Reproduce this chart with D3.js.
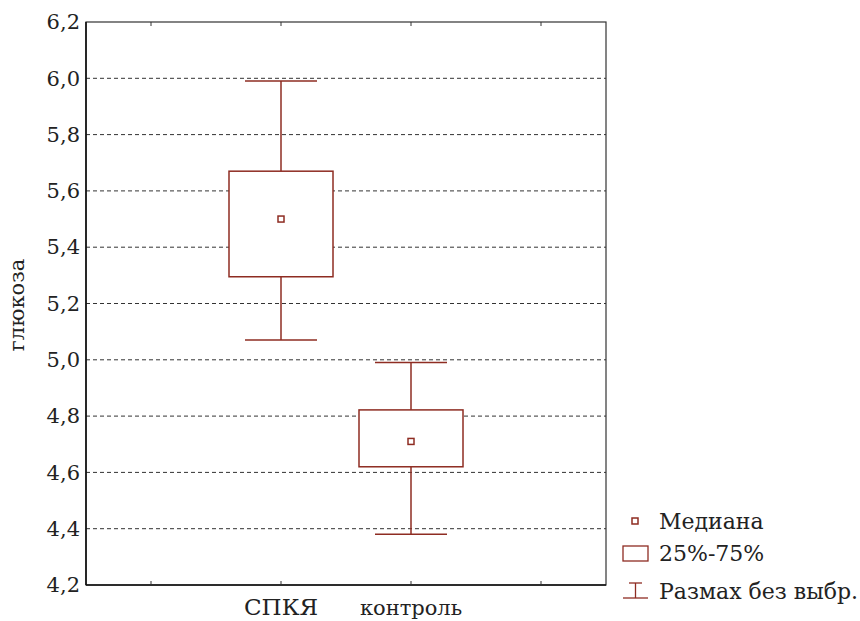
<!DOCTYPE html>
<html><head><meta charset="utf-8">
<script src="https://cdn.jsdelivr.net/npm/d3@7"></script>
<style>body{margin:0;background:#fff}svg{display:block}</style>
</head><body><svg id="c" width="860" height="621"></svg>
<script>
const categories = ["СПКЯ", "контроль"];
const catPos = [1.5, 2.5];
const whiskerLow = [5.07, 4.38];
const q25 = [5.295, 4.62];
const median = [5.5, 4.71];
const q75 = [5.67, 4.822];
const whiskerHigh = [5.99, 4.99];
const yTicks = [4.2, 4.4, 4.6, 4.8, 5.0, 5.2, 5.4, 5.6, 5.8, 6.0, 6.2];
const xTicks = [0.5, 1.5, 2.5, 3.5];
const legendLabels = ["Медиана", "25%-75%", "Размах без выбр."];

const FONT = "'DejaVu Serif', 'Liberation Serif', serif";
const col = "#8e2c22";
const svg = d3.select("#c");
const L = 86, R = 606, T = 22, B = 585;
const x = d3.scaleLinear().domain([0, 4]).range([L, R]);
const y = d3.scaleLinear().domain([4.2, 6.2]).range([B, T]);
const fmt = d => d.toFixed(1).replace(".", ",");

// grid
svg.append("g").selectAll("line").data(yTicks.filter(d => d > 4.2 && d < 6.2)).join("line")
  .attr("x1", L).attr("x2", R).attr("y1", d => y(d)).attr("y2", d => y(d))
  .attr("stroke", "#333").attr("stroke-width", 1).attr("stroke-dasharray", "4,3");

// y axis labels
const ya = svg.append("g").attr("transform", `translate(${L},0)`)
  .call(d3.axisLeft(y).tickValues(yTicks).tickFormat(fmt).tickSize(0).tickPadding(6));
ya.select(".domain").remove();
ya.selectAll("text").style("font-family", FONT).style("font-size", "21px").attr("fill", "#222");

// boxes
const g = svg.append("g");
categories.forEach((c, i) => {
  const cx = x(catPos[i]);
  g.append("line").attr("x1", cx).attr("x2", cx).attr("y1", y(whiskerHigh[i])).attr("y2", y(q75[i])).attr("stroke", col).attr("stroke-width", 1.5);
  g.append("line").attr("x1", cx).attr("x2", cx).attr("y1", y(q25[i])).attr("y2", y(whiskerLow[i])).attr("stroke", col).attr("stroke-width", 1.5);
  [whiskerHigh[i], whiskerLow[i]].forEach(v => g.append("line").attr("x1", cx - 36).attr("x2", cx + 36).attr("y1", y(v)).attr("y2", y(v)).attr("stroke", col).attr("stroke-width", 1.5));
  g.append("rect").attr("x", cx - 52).attr("width", 104).attr("y", y(q75[i])).attr("height", y(q25[i]) - y(q75[i]))
    .attr("fill", "#fff").attr("stroke", col).attr("stroke-width", 1.5);
  g.append("rect").attr("x", cx - 3).attr("y", y(median[i]) - 3).attr("width", 6).attr("height", 6)
    .attr("fill", "#fff").attr("stroke", col).attr("stroke-width", 1.5);
});

// frame
svg.append("rect").attr("x", L).attr("y", T).attr("width", R - L).attr("height", B - T).attr("fill", "none").attr("stroke", "#333").attr("stroke-width", 1.2);
svg.append("line").attr("x1", L).attr("x2", L).attr("y1", T).attr("y2", B).attr("stroke", "#111").attr("stroke-width", 1.6);
svg.append("line").attr("x1", L).attr("x2", R).attr("y1", B).attr("y2", B).attr("stroke", "#111").attr("stroke-width", 1.6);
xTicks.forEach(t => {
  svg.append("line").attr("x1", x(t)).attr("x2", x(t)).attr("y1", T).attr("y2", T + 4).attr("stroke", "#333");
  svg.append("line").attr("x1", x(t)).attr("x2", x(t)).attr("y1", B).attr("y2", B - 4).attr("stroke", "#333");
});

function txt(sel, size) { return sel.style("font-family", FONT).style("font-size", size + "px").attr("fill", "#222"); }

// category labels
categories.forEach((c, i) => {
  txt(svg.append("text").attr("x", x(catPos[i])).attr("y", 615).attr("text-anchor", "middle"), i === 0 ? 23 : 21).text(c);
});

// y title
txt(svg.append("text").attr("transform", "translate(24,305) rotate(-90)").attr("text-anchor", "middle"), 21).text("глюкоза");

// legend
const lg = svg.append("g");
lg.append("rect").attr("x", 632).attr("y", 518).attr("width", 6).attr("height", 6).attr("fill", "#fff").attr("stroke", col).attr("stroke-width", 1.5);
lg.append("rect").attr("x", 623).attr("y", 546).attr("width", 25).attr("height", 15).attr("fill", "#fff").attr("stroke", col).attr("stroke-width", 1.3);
lg.append("line").attr("x1", 623).attr("x2", 648).attr("y1", 598).attr("y2", 598).attr("stroke", col).attr("stroke-width", 1.3);
lg.append("line").attr("x1", 635.5).attr("x2", 635.5).attr("y1", 583).attr("y2", 598).attr("stroke", col).attr("stroke-width", 1.3);
lg.append("line").attr("x1", 629).attr("x2", 642).attr("y1", 583).attr("y2", 583).attr("stroke", col).attr("stroke-width", 1.3);
const ly = [529, 561, 599];
legendLabels.forEach((t, i) => txt(lg.append("text").attr("x", 659).attr("y", ly[i]), 22).text(t));
</script></body></html>
